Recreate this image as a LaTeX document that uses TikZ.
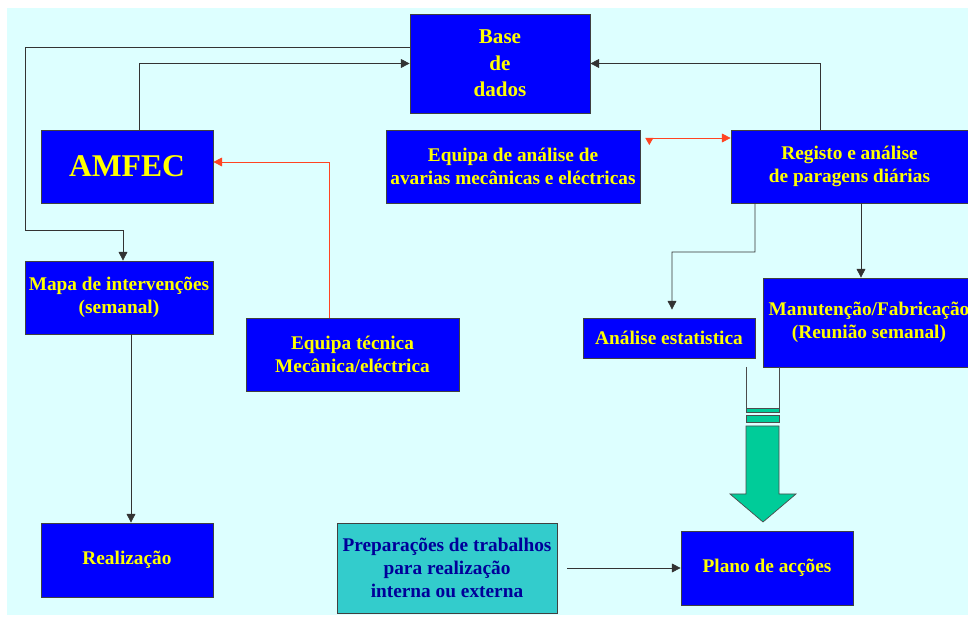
\documentclass[tikz,border=0pt]{standalone}
\usepackage{fontspec}
\setmainfont{Liberation Serif}
\usetikzlibrary{arrows.meta}
\definecolor{fundo}{HTML}{DDFFFF}
\definecolor{azul}{HTML}{0000FF}
\definecolor{amarelo}{HTML}{FFFF00}
\definecolor{turquesa}{HTML}{33CCCC}
\definecolor{marinho}{HTML}{000099}
\definecolor{verde}{HTML}{00CC99}
\definecolor{vermelho}{HTML}{FF4422}
\begin{document}
\begin{tikzpicture}[x=0.02cm,y=-0.02cm,
  every node/.style={draw=black!75,fill=azul,text=amarelo,align=center,inner sep=0pt,
    font=\bfseries\fontsize{11}{13}\selectfont},
  seta/.style={draw=black!80,-{Triangle[length=5pt,width=5pt]}},
  setav/.style={draw=vermelho,-{Triangle[length=5pt,width=5pt]}}]
  \clip (0,0) rectangle (968,617);
  \fill[fundo] (7,8) rectangle (968,615);

  % Caixas de cima
  \node (bd) at (500,63.5) [minimum width=3.6cm,minimum height=1.98cm,
    font=\bfseries\fontsize{12}{15}\selectfont] {Base\\de\\dados};
  \node (amfec) at (127,166.5) [minimum width=3.44cm,minimum height=1.46cm,
    font=\bfseries\fontsize{18}{20}\selectfont] {AMFEC};
  \node (eqan) at (513,166.5) [minimum width=5.08cm,minimum height=1.46cm] {Equipa de análise de\\avarias mecânicas e eléctricas};
  \node (reg) at (849.5,166.5) [minimum width=4.74cm,minimum height=1.46cm] {Registo e análise\\de paragens diárias};

  % Caixas do meio
  \node (mapa) at (119,297.5) [minimum width=3.76cm,minimum height=1.46cm] {Mapa de intervenções\\(semanal)};
  \node (eqtec) at (352.5,354.5) [minimum width=4.26cm,minimum height=1.46cm] {Equipa técnica\\Mecânica/eléctrica};
  \node (estat) at (669,338) [minimum width=3.44cm,minimum height=0.8cm] {Análise estatistica};
  \node (manut) at (869,322.5) [minimum width=4.24cm,minimum height=1.78cm] {Manutenção/Fabricação\\(Reunião semanal)};

  % Caixas de baixo
  \node (realiz) at (127,560) [minimum width=3.44cm,minimum height=1.48cm] {Realização};
  \node (prep) at (447,568) [fill=turquesa,text=marinho,minimum width=4.4cm,minimum height=1.8cm] {Preparações de trabalhos\\para realização\\interna ou externa};
  \node (plano) at (767,568) [minimum width=3.44cm,minimum height=1.48cm] {Plano de acções};

  % Ligações
  \coordinate (m2) at ([xshift=0.24cm]mapa.south);
  \coordinate (r2) at ([xshift=0.23cm]reg.south);
  \coordinate (eqdir) at ([xshift=0.18cm,yshift=0.57cm]eqan.east);
  \draw[seta] ([yshift=0.33cm]bd.west) -| (25,230) -| ([xshift=0.08cm]mapa.north);
  \draw[seta] ([xshift=0.24cm]amfec.north) |- (bd.west);
  \draw[seta] ([xshift=-0.59cm]reg.north) |- (bd.east);
  \draw[seta] ([xshift=-1.89cm]reg.south) |- (672,252) -- ([xshift=0.06cm,yshift=0.16cm]estat.north);
  \draw[seta] (r2) -- (r2 |- manut.north);
  \draw[seta] (m2) -- (m2 |- realiz.north);
  \draw[seta] ([xshift=0.2cm]prep.east) -- (plano.west);
  \draw[setav] ([xshift=-0.47cm]eqtec.north) |- ([yshift=0.09cm]amfec.east);
  \draw[setav] (eqdir) -- ([yshift=0.57cm]reg.west);
  \fill[vermelho] ([xshift=-2.3pt]eqdir) -- ([xshift=2.3pt]eqdir) -- ([yshift=-4pt]eqdir) -- cycle;

  % Seta verde
  \draw[black!70] (746,367) -- (746,408) (779,367) -- (779,408);
  \filldraw[fill=verde,draw=black!70] (746,408) rectangle (779,412);
  \filldraw[fill=verde,draw=black!70] (746,415) rectangle (779,422);
  \filldraw[fill=verde,draw=black!70] (746,426) -- (779,426) -- (779,494) -- (796,494)
    -- (763,522) -- (730,494) -- (746,494) -- cycle;
\end{tikzpicture}
\end{document}
